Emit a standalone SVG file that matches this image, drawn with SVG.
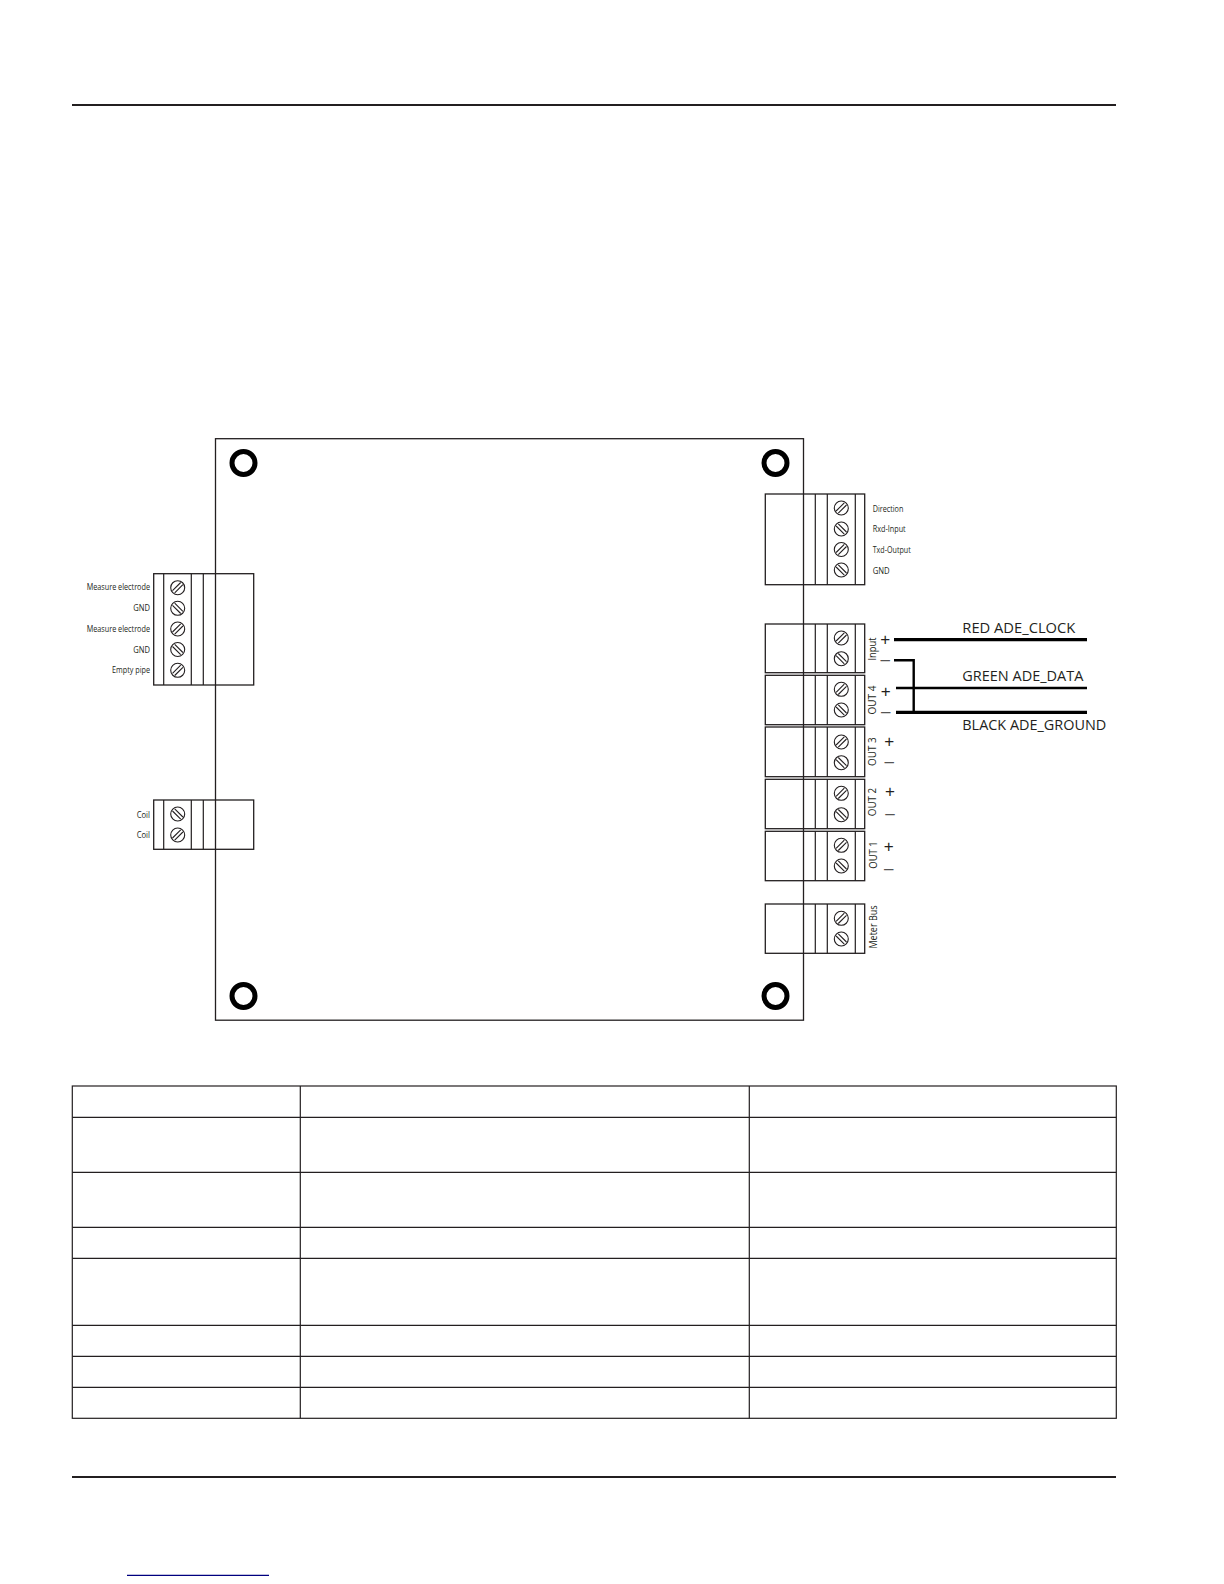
<svg xmlns="http://www.w3.org/2000/svg" width="1224" height="1584" viewBox="0 0 1224 1584">
<style>
.b{fill:none;stroke:#231f20;stroke-width:1.3}
.t{fill:none;stroke:#231f20;stroke-width:1.2}
.v{stroke:#231f20;stroke-width:1.2}
.w{fill:none;stroke:#000;stroke-width:2.4}
.x{fill:none;stroke:#000;stroke-width:3.2}
.s{font-family:"Open Sans","Liberation Sans",sans-serif;font-size:8.2px;fill:#231f20}
.r{text-anchor:end}
.l{font-family:"Open Sans","Liberation Sans",sans-serif;font-size:10.5px;fill:#231f20;text-anchor:middle}
.p{font-family:"Liberation Sans",sans-serif;font-size:17px;fill:#231f20;text-anchor:middle}
.m{fill:#555}
.c{font-family:"Open Sans","Liberation Sans",sans-serif;font-size:14.5px;fill:#231f20}
.h{fill:none;stroke:#000;stroke-width:5}
</style>
<defs>
<g id="sa"><circle r="7" fill="#fff" stroke="#231f20" stroke-width="1.1"/><path d="M-5.2 3L3-5.2M-3 5.2L5.2-3" fill="none" stroke="#231f20" stroke-width="1.1"/></g>
<g id="sb"><circle r="7" fill="#fff" stroke="#231f20" stroke-width="1.1"/><path d="M-5.2-3L3 5.2M-3-5.2L5.2 3" fill="none" stroke="#231f20" stroke-width="1.1"/></g>
</defs>
<rect width="1224" height="1584" fill="#fff"/>
<g id="page-rules">
<path d="M72 105H1116M72 1477H1116" fill="none" stroke="#231f20" stroke-width="2"/>
<path d="M127 1575.3H269" fill="none" stroke="#00007f" stroke-width="1.2"/>
</g>
<g id="board">
<rect x="215.5" y="438.7" width="588" height="581.5" class="b"/>
<circle cx="243.5" cy="463" r="11.5" class="h"/>
<circle cx="775.5" cy="463" r="11.5" class="h"/>
<circle cx="243.5" cy="996" r="11.5" class="h"/>
<circle cx="775.5" cy="996" r="11.5" class="h"/>
</g>
<g id="conn-left-main">
<rect x="153.7" y="573.7" width="100" height="111.3" class="b"/>
<path d="M163.7 573.7V685M191.3 573.7V685M203.3 573.7V685" class="v"/>
<use href="#sa" x="177.7" y="587.7"/><use href="#sb" x="177.7" y="608.3"/><use href="#sa" x="177.7" y="629"/><use href="#sb" x="177.7" y="649.5"/><use href="#sa" x="177.7" y="670.3"/>
<text class="s r" x="150" y="590.3" textLength="63.3" lengthAdjust="spacingAndGlyphs">Measure electrode</text>
<text class="s r" x="150" y="611" textLength="16.7" lengthAdjust="spacingAndGlyphs">GND</text>
<text class="s r" x="150" y="632" textLength="63.3" lengthAdjust="spacingAndGlyphs">Measure electrode</text>
<text class="s r" x="150" y="652.5" textLength="16.7" lengthAdjust="spacingAndGlyphs">GND</text>
<text class="s r" x="150" y="673" textLength="38" lengthAdjust="spacingAndGlyphs">Empty pipe</text>
</g>
<g id="conn-left-coil">
<rect x="153.7" y="800" width="100" height="49.3" class="b"/>
<path d="M163.7 800V849.3M191.3 800V849.3M203.3 800V849.3" class="v"/>
<use href="#sb" x="177.7" y="814"/><use href="#sa" x="177.7" y="835"/>
<text class="s r" x="150" y="817.5" textLength="13.3" lengthAdjust="spacingAndGlyphs">Coil</text>
<text class="s r" x="150" y="838" textLength="13.3" lengthAdjust="spacingAndGlyphs">Coil</text>
</g>
<g id="conn-serial">
<rect x="765.3" y="494" width="99.4" height="90.7" class="b"/>
<path d="M815.3 494V584.7M827.3 494V584.7M855.3 494V584.7" class="v"/>
<use href="#sa" x="841.3" y="508"/><use href="#sb" x="841.3" y="529"/><use href="#sa" x="841.3" y="549.5"/><use href="#sb" x="841.3" y="570"/>
<text class="s" x="872.7" y="511.7" textLength="30.7" lengthAdjust="spacingAndGlyphs">Direction</text>
<text class="s" x="872.7" y="532.3" textLength="33" lengthAdjust="spacingAndGlyphs">Rxd-Input</text>
<text class="s" x="872.7" y="552.8" textLength="38" lengthAdjust="spacingAndGlyphs">Txd-Output</text>
<text class="s" x="872.7" y="573.5" textLength="17" lengthAdjust="spacingAndGlyphs">GND</text>
</g>
<g id="conn-input">
<rect x="765.3" y="624" width="99.4" height="48.7" class="b"/>
<path d="M815.3 624V672.7M827.3 624V672.7M855.3 624V672.7" class="v"/>
<use href="#sa" x="841.3" y="638"/><use href="#sb" x="841.3" y="658.7"/>
<text class="l" transform="translate(875.7 649) rotate(-90)" textLength="23" lengthAdjust="spacingAndGlyphs">Input</text>
<text class="p" x="885.3" y="645">+</text><text class="p m" x="885.3" y="665">–</text>
</g>
<g id="conn-out4">
<rect x="765.3" y="675.3" width="99.4" height="49.4" class="b"/>
<path d="M815.3 675.3V724.7M827.3 675.3V724.7M855.3 675.3V724.7" class="v"/>
<use href="#sa" x="841.3" y="689.3"/><use href="#sb" x="841.3" y="710"/>
<text class="l" transform="translate(875.7 700) rotate(-90)" textLength="29" lengthAdjust="spacingAndGlyphs">OUT 4</text>
<text class="p" x="885.7" y="696.7">+</text><text class="p m" x="885.7" y="716.5">–</text>
</g>
<g id="conn-out3">
<rect x="765.3" y="727" width="99.4" height="49.7" class="b"/>
<path d="M815.3 727V776.7M827.3 727V776.7M855.3 727V776.7" class="v"/>
<use href="#sa" x="841.3" y="742"/><use href="#sb" x="841.3" y="762.7"/>
<text class="l" transform="translate(876 751.7) rotate(-90)" textLength="28.5" lengthAdjust="spacingAndGlyphs">OUT 3</text>
<text class="p" x="889.3" y="746.7">+</text><text class="p m" x="889.3" y="767">–</text>
</g>
<g id="conn-out2">
<rect x="765.3" y="779.3" width="99.4" height="49.4" class="b"/>
<path d="M815.3 779.3V828.7M827.3 779.3V828.7M855.3 779.3V828.7" class="v"/>
<use href="#sa" x="841.3" y="793.3"/><use href="#sb" x="841.3" y="814.7"/>
<text class="l" transform="translate(876.3 802) rotate(-90)" textLength="28.5" lengthAdjust="spacingAndGlyphs">OUT 2</text>
<text class="p" x="890" y="797">+</text><text class="p m" x="890" y="819">–</text>
</g>
<g id="conn-out1">
<rect x="765.3" y="831.3" width="99.4" height="49.4" class="b"/>
<path d="M815.3 831.3V880.7M827.3 831.3V880.7M855.3 831.3V880.7" class="v"/>
<use href="#sa" x="841.3" y="845.3"/><use href="#sb" x="841.3" y="866"/>
<text class="l" transform="translate(877 855) rotate(-90)" textLength="27.5" lengthAdjust="spacingAndGlyphs">OUT 1</text>
<text class="p" x="888.7" y="851.7">+</text><text class="p m" x="888.7" y="873.7">–</text>
</g>
<g id="conn-meter-bus">
<rect x="765.3" y="904" width="99.4" height="49.3" class="b"/>
<path d="M815.3 904V953.3M827.3 904V953.3M855.3 904V953.3" class="v"/>
<use href="#sa" x="841.3" y="918.3"/><use href="#sb" x="841.3" y="939"/>
<text class="l" transform="translate(877 927) rotate(-90)" textLength="43" lengthAdjust="spacingAndGlyphs">Meter Bus</text>
</g>
<g id="connectors">
<path class="x" d="M894 639.7H1087M896 712.3H1087"/>
<path class="w" d="M896 688H1087M894 660.3H913.7V712.3"/>
</g>
<g id="wire-labels">
<text class="c" x="962.3" y="632.7" textLength="113" lengthAdjust="spacingAndGlyphs">RED ADE_CLOCK</text>
<text class="c" x="962.3" y="681.3" textLength="121" lengthAdjust="spacingAndGlyphs">GREEN ADE_DATA</text>
<text class="c" x="962.3" y="730" textLength="144" lengthAdjust="spacingAndGlyphs">BLACK ADE_GROUND</text>
</g>
<g id="table">
<rect x="72.3" y="1086" width="1044" height="332.3" class="t"/>
<path class="v" d="M300.3 1086V1418.3M749.3 1086V1418.3M72.3 1117.3H1116.3M72.3 1172.3H1116.3M72.3 1227.3H1116.3M72.3 1258.3H1116.3M72.3 1325.3H1116.3M72.3 1356.3H1116.3M72.3 1387.3H1116.3"/>
</g>
</svg>
